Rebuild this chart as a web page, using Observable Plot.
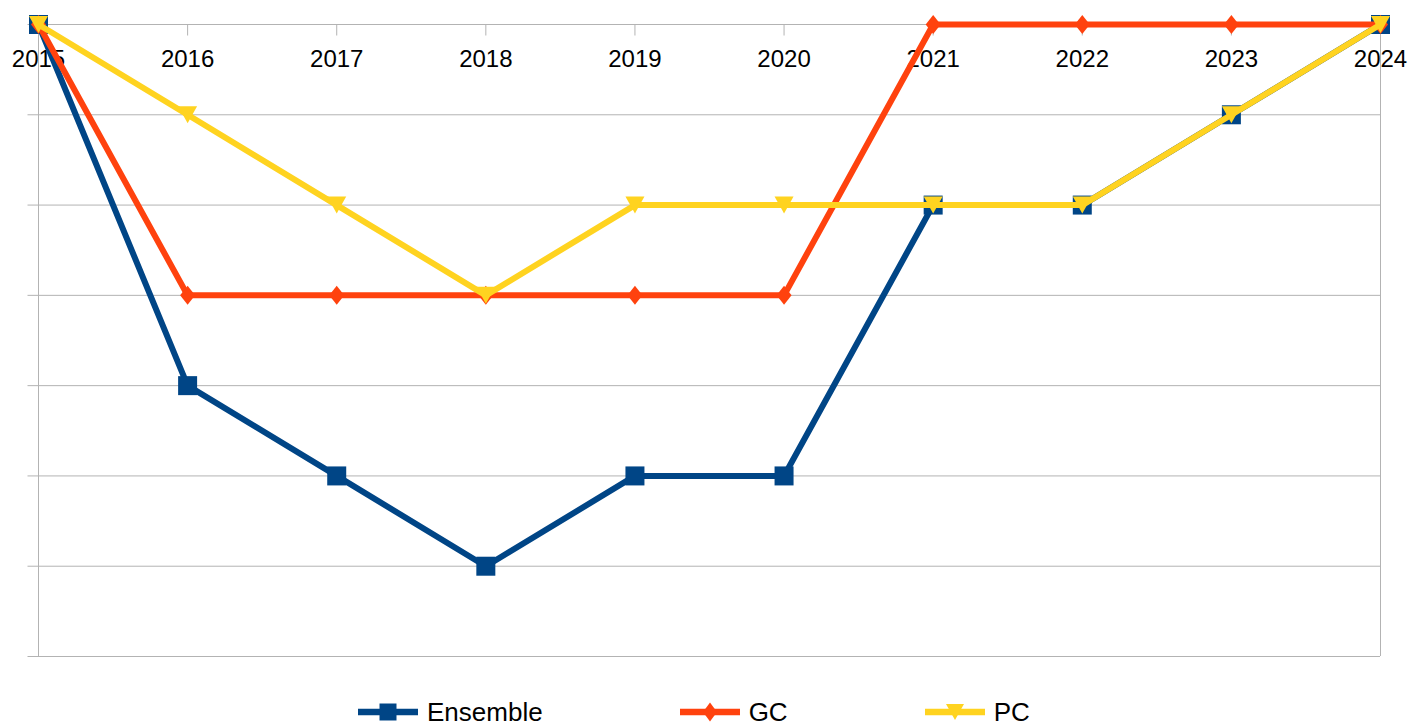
<!DOCTYPE html>
<html>
<head>
<meta charset="utf-8">
<script src="https://cdn.jsdelivr.net/npm/d3@7"></script>
<script src="https://cdn.jsdelivr.net/npm/@observablehq/plot@0.6"></script>
<style>
  body { margin: 0; background: #fff; font-family: "Liberation Sans", Arial, sans-serif; }
  #wrap { position: relative; width: 1409px; height: 728px; overflow: hidden; background: #fff; }
  #legend { position: absolute; left: 358px; top: 697px; height: 30px; display: flex; align-items: center; gap: 137px; font-size: 26px; line-height: 1; color: #000; white-space: nowrap; }
  .item { display: flex; align-items: center; gap: 9px; }
  .item svg { display: block; }
  .item span { line-height: 1; }
</style>
</head>
<body>
<div id="wrap">
  <div id="chart"></div>
  <div id="legend"></div>
</div>
<script>
// ---- data ----
const years = ["2015", "2016", "2017", "2018", "2019", "2020", "2021", "2022", "2023", "2024"];
const ensemble = [1, 5, 6, 7, 6, 6, 3, 3, 2, 1];
const gc       = [1, 4, 4, 4, 4, 4, 1, 1, 1, 1];
const pc       = [1, 2, 3, 4, 3, 3, 3, 3, 2, 1];
const seriesNames = ["Ensemble", "GC", "PC"];
const yTicks = [1, 2, 3, 4, 5, 6, 7, 8];

// ---- styling ----
const seriesColors = ["#004586", "#ff420e", "#ffd320"];
const gridColor = "#b3b3b3";

// custom marker shapes
const squareSym = { draw(c) { const h = 9.5; c.moveTo(-h, -h); c.lineTo(h, -h); c.lineTo(h, h); c.lineTo(-h, h); c.closePath(); } };
const diamondSym = { draw(c) { const w = 7.5, h = 9.5; c.moveTo(0, -h); c.lineTo(w, 0); c.lineTo(0, h); c.lineTo(-w, 0); c.closePath(); } };
const triDownSym = { draw(c) { const w = 9.5, h = 8.5; c.moveTo(-w, -h); c.lineTo(w, -h); c.lineTo(0, h); c.closePath(); } };
const vTickSym = { draw(c) { c.moveTo(0, 0); c.lineTo(0, 11); } };
const hTickSym = { draw(c) { c.moveTo(0, 0); c.lineTo(-11, 0); } };
const seriesSymbols = [squareSym, diamondSym, triDownSym];

const seriesValues = [ensemble, gc, pc];
const rows = seriesNames.flatMap((s, i) =>
  years.map((yr, j) => ({ series: s, year: yr, rank: seriesValues[i][j] }))
);

const seriesMarks = seriesNames.flatMap((s, i) => {
  const d = rows.filter(r => r.series === s);
  return [
    Plot.line(d, { x: "year", y: "rank", stroke: seriesColors[i], strokeWidth: 6, strokeLinejoin: "round", strokeLinecap: "butt" }),
    Plot.dot(d, { x: "year", y: "rank", symbol: seriesSymbols[i], fill: seriesColors[i], stroke: "none", r: 5 })
  ];
});

const chart = Plot.plot({
  width: 1409,
  height: 690,
  marginLeft: 38,
  marginRight: 29,
  marginTop: 24,
  marginBottom: 34,
  style: { fontFamily: "'Liberation Sans', Arial, sans-serif", background: "white", overflow: "visible" },
  x: { type: "point", domain: years, padding: 0, round: false, axis: null },
  y: { domain: [yTicks[0], yTicks[yTicks.length - 1]], reverse: true, axis: null },
  marks: [
    Plot.ruleY(yTicks, { y: d => d, stroke: gridColor, strokeWidth: 1 }),
    Plot.dot(yTicks, { x: () => years[0], y: d => d, symbol: hTickSym, stroke: gridColor, fill: "none", strokeWidth: 1 }),
    Plot.ruleX([years[0], years[years.length - 1]], { x: d => d, stroke: gridColor, strokeWidth: 1 }),
    Plot.dot(years, { x: d => d, y: () => yTicks[0], symbol: vTickSym, stroke: gridColor, fill: "none", strokeWidth: 1 }),
    Plot.text(years, { x: d => d, y: () => yTicks[0], text: d => d, dy: 35, fontSize: 24, fill: "#000" }),
    ...seriesMarks
  ]
});
document.getElementById("chart").appendChild(chart);

// ---- legend ----
const legendPaths = [
  "M-8.5,-8.5L8.5,-8.5L8.5,8.5L-8.5,8.5Z",
  "M0,-9.5L7,0L0,9.5L-7,0Z",
  "M-9,-8L9,-8L0,8Z"
];
const legend = document.getElementById("legend");
seriesNames.forEach((s, i) => {
  const item = document.createElement("div");
  item.className = "item";
  item.innerHTML =
    `<svg width="60" height="22" viewBox="0 0 60 22">` +
    `<line x1="0" x2="60" y1="11" y2="11" stroke="${seriesColors[i]}" stroke-width="6.5"/>` +
    `<path transform="translate(30,11)" d="${legendPaths[i]}" fill="${seriesColors[i]}"/>` +
    `</svg><span>${s}</span>`;
  legend.appendChild(item);
});
</script>
</body>
</html>
